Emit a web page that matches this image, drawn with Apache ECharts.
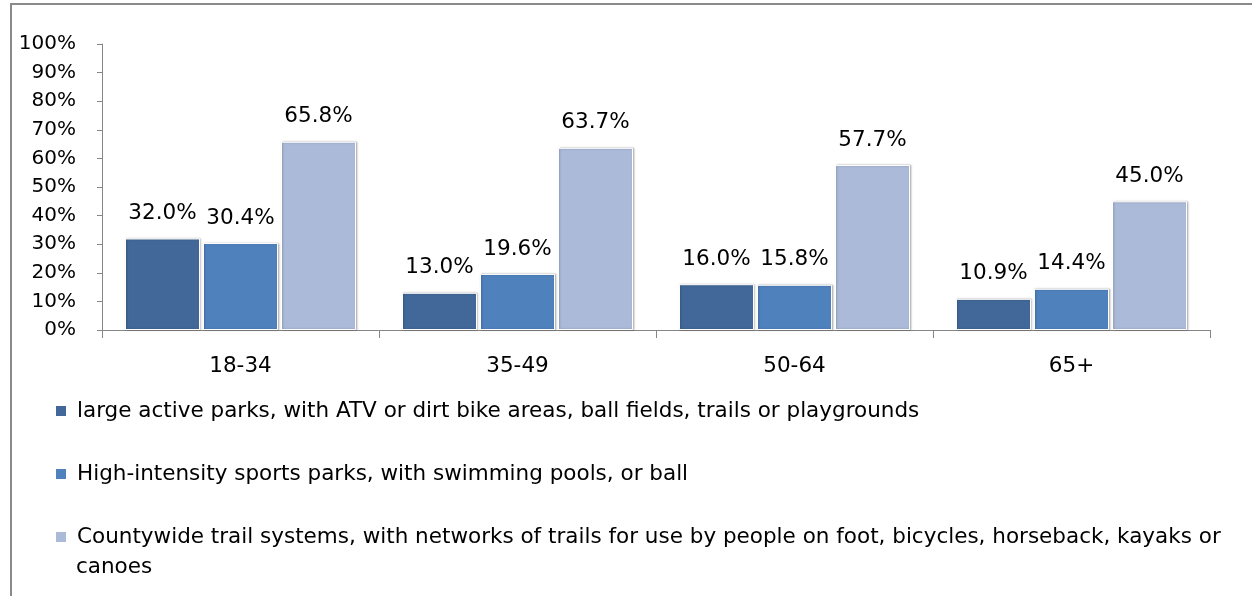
<!DOCTYPE html>
<html>
<head>
<meta charset="utf-8">
<script src="https://cdn.jsdelivr.net/npm/echarts@6/dist/echarts.min.js"></script>
<style>
  html, body { margin: 0; padding: 0; background: #fff; }
  #chart { width: 1252px; height: 596px; }
</style>
</head>
<body>
<div id="chart"></div>
<script>
// age groups
const ageGroups = ['18-34', '35-49', '50-64', '65+'];
// series names and values (percent)
const nameLarge = 'large active parks, with ATV or dirt bike areas, ball fields, trails or playgrounds';
const nameHigh = 'High-intensity sports parks, with swimming pools, or ball';
const nameTrail = 'Countywide trail systems, with networks of trails for use by people on foot, bicycles, horseback, kayaks or';
const largeParks = [32.0, 13.0, 16.0, 10.9];
const highIntensity = [30.4, 19.6, 15.8, 14.4];
const trailSystems = [65.8, 63.7, 57.7, 45.0];
const yTicks = [0, 10, 20, 30, 40, 50, 60, 70, 80, 90, 100];

const font = '"DejaVu Sans", "Open Sans", sans-serif';
const fs = 21.5;

const chart = echarts.init(document.getElementById('chart'));

function bar(name, data, color) {
  return {
    name: name,
    type: 'bar',
    data: data,
    barGap: '4%',
    barCategoryGap: '16.6%',
    itemStyle: {
      color: color,
      borderColor: '#ffffff',
      borderWidth: 1,
      shadowColor: 'rgba(0,0,0,0.25)',
      shadowBlur: 2,
      shadowOffsetX: 1
    },
    label: {
      show: true,
      position: 'top',
      distance: 14,
      formatter: p => p.value.toFixed(1) + '%',
      fontFamily: font,
      fontSize: fs,
      color: '#000'
    }
  };
}

const option = {
  animation: false,
  textStyle: { fontFamily: font },
  grid: { left: 102, right: 42, top: 44, bottom: 266, containLabel: false },
  xAxis: {
    type: 'category',
    data: ageGroups,
    axisLine: { lineStyle: { color: '#868686', width: 1 } },
    axisTick: { show: true, length: 8, alignWithLabel: false, lineStyle: { color: '#868686' } },
    axisLabel: { margin: 25, fontSize: fs, color: '#000', fontFamily: font }
  },
  yAxis: {
    type: 'value',
    min: 0,
    max: 100,
    interval: 10,
    splitLine: { show: false },
    axisLine: { show: true, lineStyle: { color: '#868686', width: 1 } },
    axisTick: { show: true, length: 5, lineStyle: { color: '#868686' } },
    axisLabel: {
      margin: 26,
      fontSize: 20,
      color: '#000',
      fontFamily: font,
      formatter: v => (yTicks.includes(v) ? v + '%' : '')
    }
  },
  legend: {
    orient: 'vertical',
    left: 49,
    top: 393,
    itemWidth: 12,
    itemHeight: 12,
    itemGap: 37,
    icon: 'rect',
    selectedMode: false,
    textStyle: { fontSize: fs, color: '#000', fontFamily: font, lineHeight: 26, padding: [0, 0, 0, 5] },
    data: [nameLarge, nameHigh, nameTrail]
  },
  graphic: [
    {
      type: 'rect',
      shape: { x: 11, y: 4, width: 1400, height: 800 },
      style: { fill: 'none', stroke: '#8a8a8a', lineWidth: 2 },
      silent: true
    },
    {
      type: 'text',
      left: 76,
      top: 556,
      style: { text: 'canoes', fontSize: fs, fill: '#000', fontFamily: font }
    }
  ],
  series: [
    bar(nameLarge, largeParks, '#416898'),
    bar(nameHigh, highIntensity, '#4F81BD'),
    bar(nameTrail, trailSystems, '#AABAD8')
  ]
};

chart.setOption(option);
</script>
</body>
</html>
